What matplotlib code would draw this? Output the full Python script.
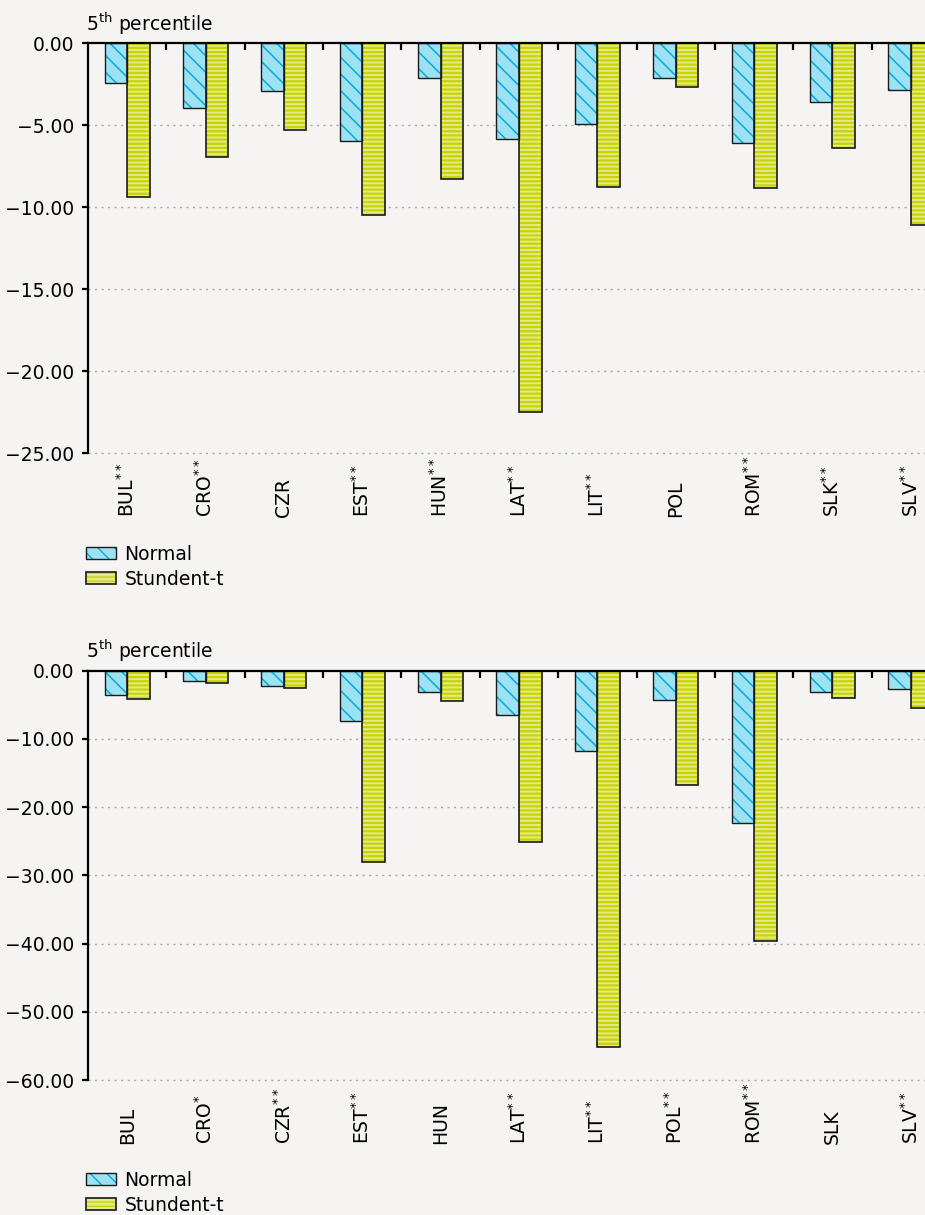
import matplotlib
matplotlib.use("Agg")
import matplotlib.pyplot as plt
from matplotlib.ticker import FixedLocator, FuncFormatter
from matplotlib.patches import Patch
from matplotlib.legend_handler import HandlerTuple

# ---------------- data ----------------
labels_top = ["BUL**", "CRO**", "CZR", "EST**", "HUN**", "LAT**", "LIT**", "POL", "ROM**", "SLK**", "SLV**"]
normal_top = [-2.45, -3.95, -2.91, -5.93, -2.14, -5.85, -4.90, -2.14, -6.05, -3.56, -2.85]
student_top = [-9.40, -6.95, -5.28, -10.50, -8.26, -22.47, -8.77, -2.65, -8.82, -6.38, -11.08]

labels_bot = ["BUL", "CRO*", "CZR**", "EST**", "HUN", "LAT**", "LIT**", "POL**", "ROM**", "SLK", "SLV**"]
normal_bot = [-3.61, -1.51, -2.24, -7.33, -3.12, -6.50, -11.73, -4.35, -22.30, -3.08, -2.73]
student_bot = [-4.20, -1.76, -2.54, -28.05, -4.44, -25.07, -55.20, -16.80, -39.63, -4.05, -5.42]

series_names = ["Normal", "Stundent-t"]
ylabel = "5$^{\\mathregular{th}}$ percentile"

# ---------------- style ----------------
BG = "#F5F4F2"
NORM_FACE = "#9DE2F2"
NORM_HATCH = "#08A8DA"
STU_FACE = "#E4E98C"
STU_HATCH = "#C9D500"
EDGE = "#1A1A1A"
FS = 13.5

plt.rcParams["font.family"] = ["DejaVu Sans"]
plt.rcParams["font.size"] = FS

fig = plt.figure(figsize=(9.25, 12.15), dpi=100, facecolor=BG)
W, H = 925.0, 1215.0


def fmt_label(s):
    base = s.rstrip("*")
    stars = s[len(base):]
    if stars:
        return base + "$^{\\mathregular{" + stars + "}}$"
    return base


def set_hlw(patches, lw):
    for p in patches:
        if hasattr(p, "set_hatch_linewidth"):
            p.set_hatch_linewidth(lw)


def panel(rect, labels, normal, student, ymin, ystep, title_y, legend_y):
    ax = fig.add_axes(rect)
    ax.set_facecolor(BG)
    n = len(labels)
    xs = list(range(n))
    w = 0.2875
    xn = [x - w / 2 for x in xs]
    xt = [x + w / 2 for x in xs]

    b1 = ax.bar(xn, normal, width=w, color=NORM_FACE, edgecolor=NORM_HATCH,
                linewidth=0, hatch="\\\\", zorder=2)
    set_hlw(b1, 1.1)
    ax.bar(xn, normal, width=w, fill=False, edgecolor=EDGE, linewidth=1.0, zorder=3)
    b2 = ax.bar(xt, student, width=w, color=STU_FACE, edgecolor=STU_HATCH,
                linewidth=0, hatch="----", zorder=2)
    set_hlw(b2, 1.6)
    ax.bar(xt, student, width=w, fill=False, edgecolor=EDGE, linewidth=1.2, zorder=3)

    ax.set_xlim(-0.5, n - 0.5)
    ax.set_ylim(ymin, 0)
    yt = []
    v = 0.0
    while v >= ymin - 1e-9:
        yt.append(v)
        v -= ystep
    ax.yaxis.set_major_locator(FixedLocator(yt))
    ax.yaxis.set_major_formatter(FuncFormatter(
        lambda val, pos: (f"{val:.2f}".replace("-", "\u2212") if abs(val) > 1e-9 else "0.00")))

    # dotted horizontal grid (unclipped so the bottom one is fully visible)
    ax.hlines(yt[1:], -0.5, n - 0.5, colors="#A8A8A8", linewidth=1.0,
              linestyles=[(0, (1.5, 3.2))], zorder=0.5, clip_on=False)

    ax.set_xticks(xs)
    ax.set_xticklabels([fmt_label(s) for s in labels])
    ax.xaxis.set_minor_locator(FixedLocator([x + 0.5 for x in xs]))
    ax.tick_params(axis="x", which="major", length=0, pad=46, labelrotation=90,
                   labelsize=FS, bottom=True, top=False)
    for t in ax.get_xticklabels():
        t.set_va("bottom")
    ax.tick_params(axis="x", which="minor", top=True, bottom=False, direction="in",
                   length=5, width=1.6, color="black")
    ax.tick_params(axis="y", which="major", direction="out", length=4.5, width=1.6,
                   pad=5.5, labelsize=FS)

    for s in ["bottom", "right"]:
        ax.spines[s].set_visible(False)
    for s in ["top", "left"]:
        ax.spines[s].set_linewidth(1.6)
        ax.spines[s].set_zorder(5)

    fig.text(86 / W, 1 - title_y / H, ylabel, fontsize=FS, ha="left", va="baseline")

    h1 = Patch(facecolor=NORM_FACE, edgecolor=NORM_HATCH, hatch="\\\\", linewidth=0)
    h1e = Patch(fill=False, edgecolor=EDGE, linewidth=1.0)
    h2 = Patch(facecolor=STU_FACE, edgecolor=STU_HATCH, hatch="----", linewidth=0)
    h2e = Patch(fill=False, edgecolor=EDGE, linewidth=1.2)
    set_hlw([h1], 1.1)
    set_hlw([h2], 1.6)
    fig.legend([(h1, h1e), (h2, h2e)], series_names,
               handler_map={tuple: HandlerTuple(ndivide=1, pad=0)},
               loc="upper left", bbox_to_anchor=(86 / W, 1 - legend_y / H),
               frameon=False, borderpad=0, borderaxespad=0,
               handlelength=1.6, handleheight=0.6, handletextpad=0.45,
               labelspacing=0.3, fontsize=FS)
    return ax


panel([88 / W, 1 - 453.3 / H, 862 / W, 410 / H], labels_top, normal_top, student_top,
      -25, 5, 31, 545)
panel([88 / W, 1 - 1080 / H, 862 / W, 409.3 / H], labels_bot, normal_bot, student_bot,
      -60, 10, 657.7, 1171)

fig.savefig("out.png", dpi=100, facecolor=BG)
